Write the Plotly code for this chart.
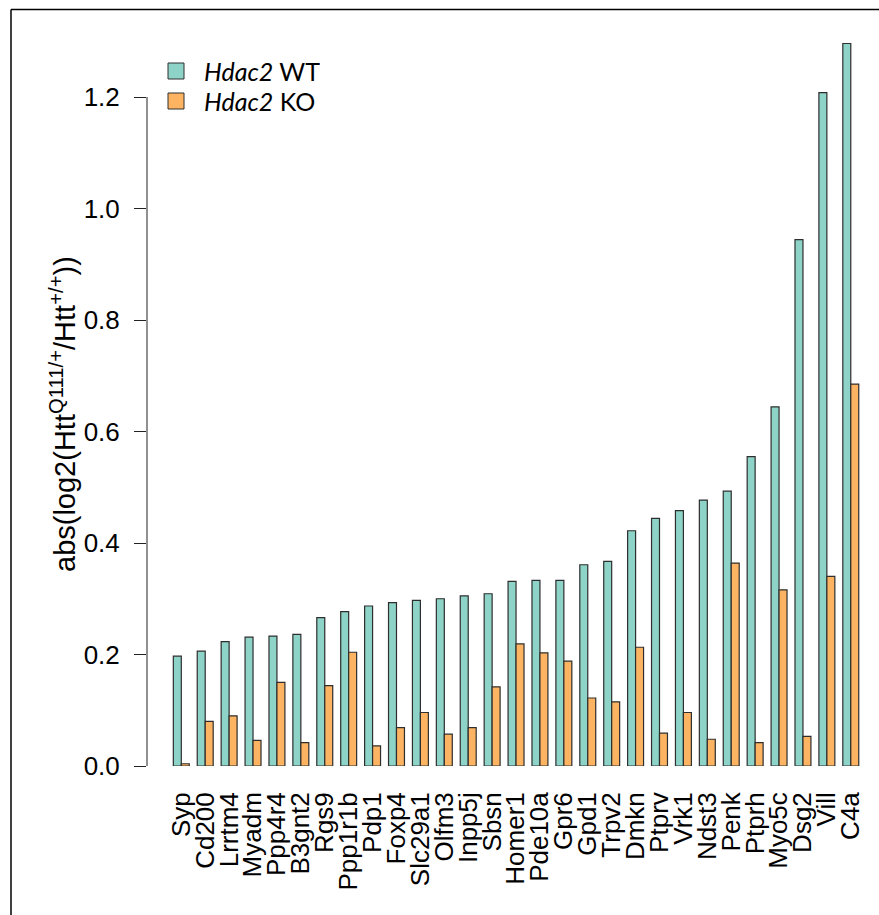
import plotly.graph_objects as go

# Genes ordered by WT effect size
genes = ["Syp", "Cd200", "Lrrtm4", "Myadm", "Ppp4r4", "B3gnt2", "Rgs9", "Ppp1r1b",
         "Pdp1", "Foxp4", "Slc29a1", "Olfm3", "Inpp5j", "Sbsn", "Homer1", "Pde10a",
         "Gpr6", "Gpd1", "Trpv2", "Dmkn", "Ptprv", "Vrk1", "Ndst3", "Penk", "Ptprh",
         "Myo5c", "Dsg2", "Vill", "C4a"]
wt_vals = [0.197, 0.206, 0.223, 0.231, 0.233, 0.236, 0.266, 0.277, 0.287, 0.293,
           0.297, 0.300, 0.305, 0.309, 0.331, 0.333, 0.333, 0.361, 0.367, 0.422,
           0.444, 0.458, 0.477, 0.493, 0.555, 0.644, 0.944, 1.208, 1.296]
ko_vals = [0.004, 0.080, 0.090, 0.046, 0.150, 0.042, 0.144, 0.204, 0.036, 0.069,
           0.096, 0.057, 0.069, 0.142, 0.219, 0.203, 0.188, 0.122, 0.115, 0.213,
           0.059, 0.096, 0.048, 0.364, 0.042, 0.316, 0.053, 0.340, 0.685]
y_ticks = [0.0, 0.2, 0.4, 0.6, 0.8, 1.0, 1.2]

WT_COLOR = "#8DD3C7"
KO_COLOR = "#FDB462"
EDGE = "#2e2e2e"

# Canvas geometry (pixels)
W, H = 879, 915
L, R, T, B = 147, 0, 19, 149
PW, PH = W - L - R, H - T - B
Y_PER_UNIT = 557.5
Y_TOP = PH / Y_PER_UNIT
CAT0_PX, CAT_STEP = 181.3, 23.91
X_RANGE = [(L - CAT0_PX) / CAT_STEP, (W - R - CAT0_PX) / CAT_STEP]


def px(x):
    return (x - L) / PW


def py(y):
    return (H - B - y) / PH


fig = go.Figure()
fig.add_trace(go.Bar(x=genes, y=wt_vals, name="Hdac2 WT",
                     marker=dict(color=WT_COLOR, line=dict(color=EDGE, width=1.2))))
fig.add_trace(go.Bar(x=genes, y=ko_vals, name="Hdac2 KO",
                     marker=dict(color=KO_COLOR, line=dict(color=EDGE, width=1.2))))

font_main = "Liberation Sans, Arial, Helvetica, sans-serif"

shapes = [
    # y axis line spanning the labelled ticks only
    dict(type="line", xref="paper", yref="y", x0=0, x1=0, y0=0, y1=1.2,
         line=dict(color="#222222", width=1)),
    # outer frame (top and left edges)
    dict(type="line", xref="paper", yref="paper", x0=px(11), x1=px(W), y0=py(9.5), y1=py(9.5),
         line=dict(color="black", width=1.5)),
    dict(type="line", xref="paper", yref="paper", x0=px(11), x1=px(11), y0=py(9.5), y1=py(H),
         line=dict(color="black", width=1.5)),
]

# Legend keys
legend_rows = [("<i>Hdac2</i> WT", WT_COLOR, 71), ("<i>Hdac2</i> KO", KO_COLOR, 101)]
annotations = []
sq = 16
for label, color, cy in legend_rows:
    shapes.append(dict(type="rect", xref="paper", yref="paper",
                       x0=px(168), x1=px(168 + sq), y0=py(cy - sq / 2), y1=py(cy + sq / 2),
                       fillcolor=color, line=dict(color=EDGE, width=1)))
    annotations.append(dict(xref="paper", yref="paper", x=px(202), y=py(cy),
                            xanchor="left", yanchor="middle", showarrow=False,
                            text=label, font=dict(family="Lato, Open Sans, sans-serif",
                                                  size=25, color="black")))

# Y axis title
annotations.append(dict(xref="paper", yref="paper", x=px(63), y=py(414),
                        xanchor="center", yanchor="middle", showarrow=False, textangle=-90,
                        text="abs(log2(Htt<sup>Q111/+</sup>/Htt<sup>+/+</sup>))",
                        font=dict(family=font_main, size=29, color="black")))

fig.update_layout(
    width=W, height=H,
    margin=dict(l=L, r=R, t=T, b=B, pad=0),
    paper_bgcolor="white", plot_bgcolor="white",
    barmode="group", bargap=1 / 3, bargroupgap=0,
    showlegend=False,
    font=dict(family=font_main, size=26, color="black"),
    shapes=shapes, annotations=annotations,
)
fig.update_xaxes(type="category", range=X_RANGE, showgrid=False, zeroline=False,
                 showline=False, ticks="", tickangle=-90, ticklabelstandoff=20,
                 tickmode="array", tickvals=genes, ticktext=genes,
                 tickfont=dict(size=26))
fig.update_yaxes(range=[0, Y_TOP], showgrid=False, zeroline=False, showline=False,
                 ticks="outside", ticklen=12, tickwidth=1, tickcolor="#222222",
                 tickvals=y_ticks, ticktext=[f"{v:.1f}" for v in y_ticks],
                 ticklabelstandoff=9, tickfont=dict(size=26))

fig.write_html("out.html")
